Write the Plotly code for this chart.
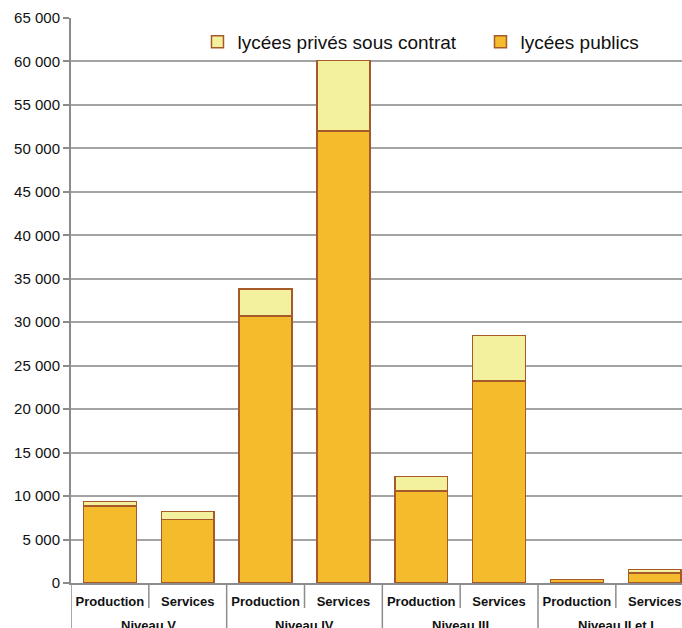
import plotly.graph_objects as go

# Niveaux de formation (outer level) and domaines (inner level)
niveaux = ["Niveau V", "Niveau V", "Niveau IV", "Niveau IV",
           "Niveau III", "Niveau III", "Niveau II et I", "Niveau II et I"]
domaines = ["Production", "Services"] * 4

# Effectifs par type d'établissement
lycees_publics = [8850, 7300, 30700, 52000, 10600, 23250, 380, 1150]
lycees_prives = [550, 900, 3150, 8100, 1650, 5200, 40, 420]

# One unique category per bar; the axis shows only the domaine name
categories = [f"{n} – {d}" for n, d in zip(niveaux, domaines)]

border = "#A65A2A"
axis_grey = "#8C8C8C"
fig = go.Figure()
fig.add_trace(go.Bar(
    x=categories, y=lycees_publics, name="lycées publics",
    marker=dict(color="#F4BC2C", line=dict(color=border, width=1.5)),
    legendrank=2,
))
fig.add_trace(go.Bar(
    x=categories, y=lycees_prives, name="lycées privés sous contrat",
    marker=dict(color="#F3F19E", line=dict(color=border, width=1.5)),
    legendrank=1,
))

plot_h = 628 - 18 - 45


def sep(xpos, depth_px):
    fig.add_shape(
        type="line", xref="x", yref="paper",
        x0=xpos, x1=xpos, y0=0, y1=-depth_px / plot_h,
        line=dict(color=axis_grey, width=1.5), layer="above",
    )


# Separators: long ones between niveaux, short ones between domaines
sep(-0.5, 60)
for i in range(len(niveaux) - 1):
    sep(i + 0.5, 25 if niveaux[i] == niveaux[i + 1] else 60)

# Niveau labels centred under their pair of bars
groups = {}
for i, n in enumerate(niveaux):
    groups.setdefault(n, []).append(i)
for n, idx in groups.items():
    fig.add_annotation(
        x=sum(idx) / len(idx), xref="x", y=0, yref="paper",
        yanchor="top", yshift=-33, text=n, showarrow=False,
        font=dict(size=13, color="#111111", weight="bold"),
    )

fig.update_layout(
    width=682, height=628,
    margin=dict(l=71, r=0, t=18, b=45, autoexpand=False),
    barmode="stack", bargap=0.32,
    paper_bgcolor="white", plot_bgcolor="white",
    separators=", ",
    font=dict(family="Liberation Sans, Arial, sans-serif", color="#111111"),
    showlegend=True,
    legend=dict(
        orientation="h", x=0.207, y=0.9575, xanchor="left", yanchor="middle",
        font=dict(size=19, color="#111111"), entrywidth=238,
        traceorder="normal", bgcolor="rgba(0,0,0,0)",
    ),
)

fig.update_yaxes(
    range=[0, 65000], dtick=5000, tickformat=",d",
    showgrid=True, gridcolor="#A3A3A3", gridwidth=2,
    showline=True, linecolor=axis_grey, linewidth=2,
    ticks="outside", ticklen=6, tickcolor=axis_grey, tickwidth=1.5,
    tickfont=dict(size=15, color="#111111"),
    zeroline=False, automargin=False,
)

fig.update_xaxes(
    type="category", range=[-0.5, 7.35],
    tickvals=categories, ticktext=domaines,
    showline=True, linecolor=axis_grey, linewidth=2,
    ticks="", tickangle=0, ticklabelstandoff=5,
    tickfont=dict(size=13, color="#111111", weight="bold"),
    showgrid=False, automargin=False,
)

fig.write_html("out.html")
